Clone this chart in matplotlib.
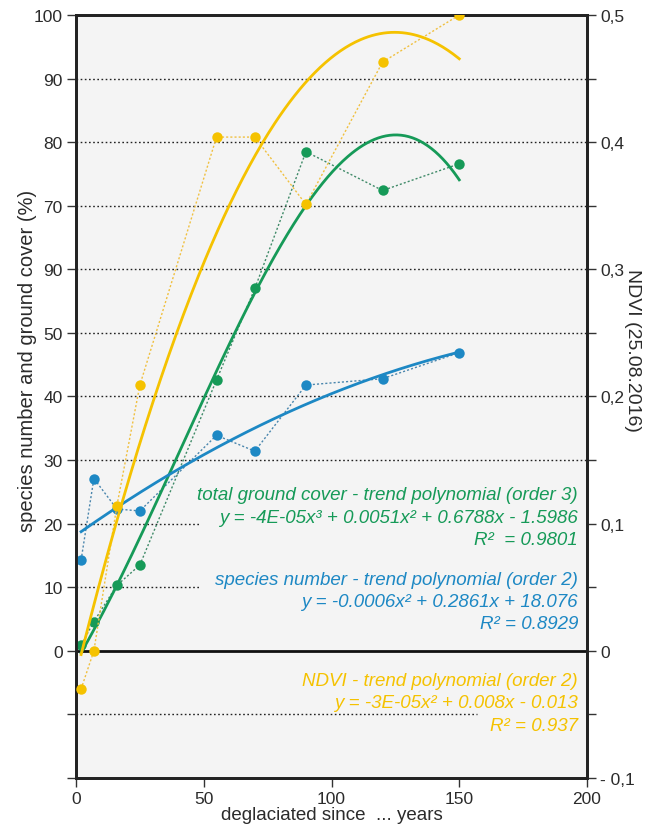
import numpy as np
import matplotlib
matplotlib.use("Agg")
import matplotlib.pyplot as plt

plt.rcParams['font.family'] = ['Liberation Sans', 'DejaVu Sans']

# ---- data ----
years = [2, 7, 16, 25, 55, 70, 90, 120, 150]
ground_cover = [0.9, 4.6, 10.3, 13.5, 42.6, 57.0, 78.5, 72.4, 76.6]
species = [14.3, 27.1, 22.3, 22.0, 33.9, 31.4, 41.8, 42.8, 46.9]
ndvi = [-0.030, 0.0, 0.114, 0.209, 0.404, 0.404, 0.351, 0.463, 0.500]

left_tick_vals = [0, 10, 20, 30, 40, 50, 60, 70, 80, 90, 100]
left_tick_labels = ["0", "10", "20", "30", "40", "50", "90", "70", "80", "90", "100"]
right_tick_vals = [-0.1, 0.0, 0.1, 0.2, 0.3, 0.4, 0.5]
right_tick_labels = ["- 0,1", "0", "0,1", "0,2", "0,3", "0,4", "0,5"]
x_ticks = [0, 50, 100, 150, 200]

green = '#169a58'
blue = '#1d88c4'
yellow = '#f5c200'
txt = '#2b2b2b'
bg = '#f4f4f4'

fig = plt.figure(figsize=(6.48, 8.28), dpi=100)
ax = fig.add_axes([76/648, 1-779/828, (587-76)/648, (779-16)/828])
ax.set_facecolor(bg)
ax.set_xlim(0, 200)
ax.set_ylim(-20, 100)
ax2 = ax.twinx()
ax2.set_ylim(-0.1, 0.5)

# gridlines
grid_kw = dict(color='#222222', lw=1.0, ls=(0, (1.2, 1.8)), zorder=1)
for v in [30, 40, 50, 60, 70, 80, 90]:
    ax.axhline(v, **grid_kw)
for v in [10, 20]:
    ax.axhline(v, xmax=0.243, **grid_kw)
ax.axhline(-10, xmax=0.785, **grid_kw)
ax.axhline(0, color='#111111', lw=2.0, zorder=2)

xs = np.linspace(min(years), max(years), 300)

# ground cover
ax.plot(years, ground_cover, ls=(0, (1.5, 1.5)), lw=1.0, color='#3f8a68', zorder=3)
ax.plot(xs, np.polyval(np.polyfit(years, ground_cover, 3), xs), color=green, lw=2.0, zorder=4)
ax.plot(years, ground_cover, 'o', ms=7.5, color=green, mec='none', zorder=5)

# species
ax.plot(years, species, ls=(0, (1.5, 1.5)), lw=1.0, color='#4a86ad', zorder=3)
ax.plot(xs, np.polyval(np.polyfit(years, species, 2), xs), color=blue, lw=2.0, zorder=4)
ax.plot(years, species, 'o', ms=7.5, color=blue, mec='none', zorder=5)

# ndvi
ax2.plot(years, ndvi, ls=(0, (1.5, 1.5)), lw=1.0, color='#f0c040', zorder=3)
ax2.plot(xs, np.polyval(np.polyfit(years, ndvi, 2), xs), color=yellow, lw=2.0, zorder=4)
ax2.plot(years, ndvi, 'o', ms=7.5, color=yellow, mec='none', zorder=5)

# ticks
ax.set_xticks(x_ticks)
ax.set_xticklabels([str(v) for v in x_ticks])
ax.set_yticks(np.arange(-20, 101, 10))
ax.set_yticklabels(["", ""] + left_tick_labels)
ax2.set_yticks(np.arange(-0.1, 0.501, 0.05))
lbl = []
for v in np.arange(-0.1, 0.501, 0.05):
    m = [l for t, l in zip(right_tick_vals, right_tick_labels) if abs(t - v) < 1e-6]
    lbl.append(m[0] if m else "")
ax2.set_yticklabels(lbl)

for a in (ax, ax2):
    a.tick_params(direction='out', length=6.5, width=1.0, colors='#333333',
                  labelsize=12.5, labelcolor=txt, pad=3)
    for s in a.spines.values():
        s.set_linewidth(2.0)
        s.set_color('#222222')

fig.text(332/648, 1-816/828, "deglaciated since  ... years", fontsize=13.5, color=txt,
         ha='center', va='center')
fig.text(28/648, 1-361/828, "species number and ground cover (%)", fontsize=14.5, color=txt,
         ha='center', va='center', rotation=90)
fig.text(632/648, 1-350/828, "NDVI (25.08.2016)", fontsize=14, color=txt,
         ha='center', va='center', rotation=270)

# annotations
tx = 196.5
tk = dict(ha='right', va='center', fontsize=13.5, style='italic', zorder=6)
ax.text(tx, 24.6, "total ground cover - trend polynomial (order 3)", color=green, **tk)
ax.text(tx, 21.0, "y = -4E-05x³ + 0.0051x² + 0.6788x - 1.5986", color=green, **tk)
ax.text(tx, 17.5, "R²  = 0.9801", color=green, **tk)
ax.text(tx, 11.2, "species number - trend polynomial (order 2)", color=blue, **tk)
ax.text(tx, 7.7, "y = -0.0006x² + 0.2861x + 18.076", color=blue, **tk)
ax.text(tx, 4.3, "R² = 0.8929", color=blue, **tk)
ax.text(tx, -4.7, "NDVI - trend polynomial (order 2)", color=yellow, **tk)
ax.text(tx, -8.2, "y = -3E-05x² + 0.008x - 0.013", color=yellow, **tk)
ax.text(tx, -11.7, "R² = 0.937", color=yellow, **tk)

fig.savefig("out.png", dpi=100)
